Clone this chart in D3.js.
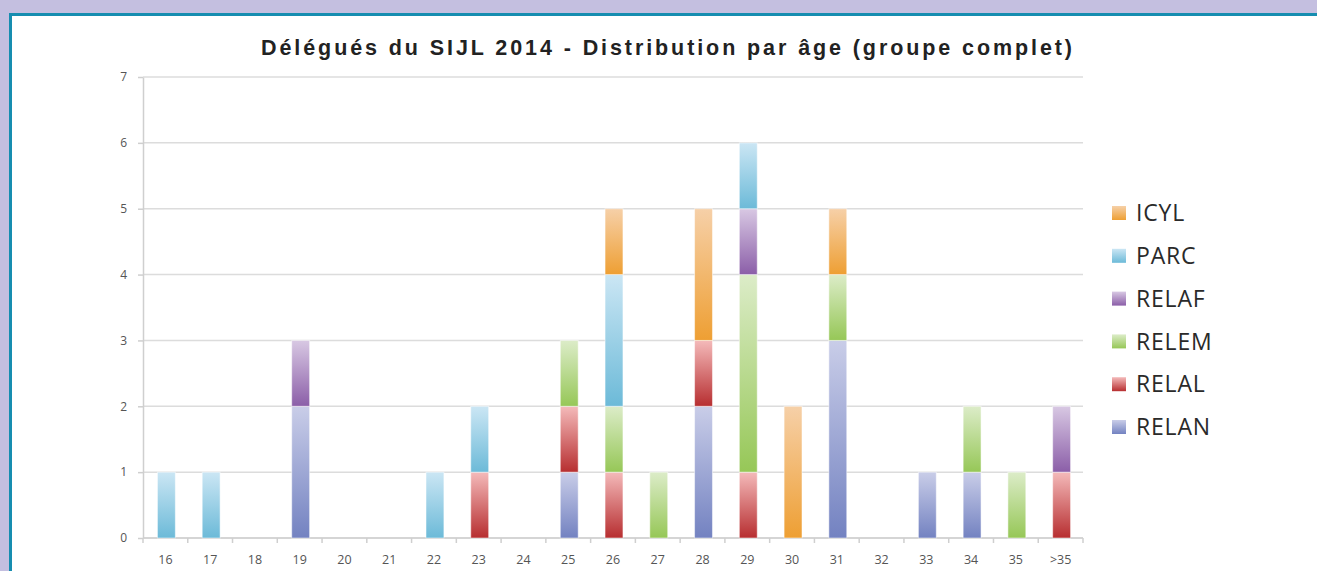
<!DOCTYPE html>
<html>
<head>
<meta charset="utf-8">
<script src="https://cdn.jsdelivr.net/npm/d3@7"></script>
<style>
  body { margin: 0; background: #c4bfe0; overflow: hidden; }
  svg { display: block; }
</style>
</head>
<body>
<svg id="chart"></svg>
<script>
const width = 1317, height = 571;

// Data
const categories = ['16','17','18','19','20','21','22','23','24','25','26','27','28','29','30','31','32','33','34','35','>35'];
const ICYL  = [0,0,0,0,0,0,0,0,0,0,1,0,2,0,2,1,0,0,0,0,0];
const PARC  = [1,1,0,0,0,0,1,1,0,0,2,0,0,1,0,0,0,0,0,0,0];
const RELAF = [0,0,0,1,0,0,0,0,0,0,0,0,0,1,0,0,0,0,0,0,1];
const RELEM = [0,0,0,0,0,0,0,0,0,1,1,1,0,3,0,1,0,0,1,1,0];
const RELAL = [0,0,0,0,0,0,0,1,0,1,1,0,1,1,0,0,0,0,0,0,1];
const RELAN = [0,0,0,2,0,0,0,0,0,1,0,0,2,0,0,3,0,1,1,0,0];
const seriesNames = ['RELAN','RELAL','RELEM','RELAF','PARC','ICYL'];
const legendOrder = ['ICYL','PARC','RELAF','RELEM','RELAL','RELAN'];
const yTicks = [0,1,2,3,4,5,6,7];
const title = 'Délégués du SIJL 2014 - Distribution par âge (groupe complet)';

const seriesValues = { ICYL, PARC, RELAF, RELEM, RELAL, RELAN };

// colours: light top, dark bottom
const colours = {
  ICYL:  ['#f6d0a8', '#ee9f33'],
  PARC:  ['#cbe6f4', '#6cbad8'],
  RELAF: ['#d8c8e3', '#8b5ea8'],
  RELEM: ['#dcecc8', '#96c757'],
  RELAL: ['#f4baba', '#b72e30'],
  RELAN: ['#c9cde8', '#7382c1']
};

const rows = categories.map((c, i) => {
  const r = { cat: c };
  seriesNames.forEach(k => r[k] = seriesValues[k][i]);
  return r;
});

const svg = d3.select('#chart')
  .attr('width', width)
  .attr('height', height);

// gradients
const defs = svg.append('defs');
seriesNames.forEach(k => {
  const g = defs.append('linearGradient')
    .attr('id', `grad-${k}`)
    .attr('x1', 0).attr('y1', 0).attr('x2', 0).attr('y2', 1);
  g.append('stop').attr('offset', '0%').attr('stop-color', colours[k][0]);
  g.append('stop').attr('offset', '100%').attr('stop-color', colours[k][1]);
});

// page background + panel (top and left border only, rest runs off the page)
svg.append('rect')
  .attr('width', width).attr('height', height)
  .attr('fill', '#c4bfe0');
svg.append('rect')
  .attr('x', 9).attr('y', 13)
  .attr('width', width - 9).attr('height', height - 13)
  .attr('fill', '#fff');
svg.append('rect')
  .attr('x', 9).attr('y', 13)
  .attr('width', width - 9).attr('height', 3)
  .attr('fill', '#168db0');
svg.append('rect')
  .attr('x', 9).attr('y', 13)
  .attr('width', 3).attr('height', height - 13)
  .attr('fill', '#168db0');

// scales
const x = d3.scaleBand().domain(categories).range([143, 1083]);
const y = d3.scaleLinear().domain([0, 7]).range([538, 77]);

// gridlines
svg.append('g')
  .selectAll('line')
  .data(yTicks)
  .enter()
  .append('line')
  .attr('x1', 143).attr('x2', 1083)
  .attr('y1', d => y(d)).attr('y2', d => y(d))
  .attr('stroke', '#dcdcdc')
  .attr('stroke-width', 1.5);

// y axis
const yAxis = svg.append('g')
  .attr('transform', 'translate(143,0)')
  .call(d3.axisLeft(y).tickValues(yTicks).tickFormat(d3.format('d'))
    .tickSize(5).tickPadding(11).tickSizeOuter(0));
yAxis.select('.domain').attr('stroke', '#cfcfcf').attr('stroke-width', 1.5);
yAxis.selectAll('.tick line').attr('stroke', '#cfcfcf').attr('stroke-width', 1.5);
yAxis.selectAll('text')
  .attr('fill', '#555')
  .style('font-family', '"Open Sans", sans-serif')
  .style('font-size', '12px');

// x axis
const xAxis = svg.append('g')
  .attr('transform', `translate(0,${y(0)})`)
  .call(d3.axisBottom(x).tickSize(0).tickPadding(17));
xAxis.select('.domain').remove();
xAxis.selectAll('text')
  .attr('fill', '#555')
  .style('font-family', '"Open Sans", sans-serif')
  .style('font-size', '12.5px');

svg.append('line')
  .attr('x1', 143).attr('x2', 1083)
  .attr('y1', y(0)).attr('y2', y(0))
  .attr('stroke', '#cfcfcf')
  .attr('stroke-width', 1.5);

// boundary ticks
svg.append('g')
  .selectAll('line')
  .data(categories.map(c => x(c)).concat([x.range()[1]]))
  .enter()
  .append('line')
  .attr('x1', d => d).attr('x2', d => d)
  .attr('y1', y(0)).attr('y2', y(0) + 5)
  .attr('stroke', '#cfcfcf')
  .attr('stroke-width', 1.5);

// stacked bars
const stacked = d3.stack().keys(seriesNames)(rows);
const barW = x.bandwidth() * 0.4;

svg.append('g')
  .selectAll('g')
  .data(stacked)
  .enter()
  .append('g')
  .attr('fill', d => `url(#grad-${d.key})`)
  .selectAll('rect')
  .data(d => d.filter(s => s[1] > s[0]))
  .enter()
  .append('rect')
  .attr('x', d => x(d.data.cat) + x.bandwidth() / 2 - barW / 2 + 1)
  .attr('y', d => y(d[1]))
  .attr('width', barW)
  .attr('height', d => y(d[0]) - y(d[1]))
  .attr('stroke', 'rgba(255,255,255,0.5)')
  .attr('stroke-width', 1);

// title
const t = svg.append('text')
  .attr('x', 668)
  .attr('y', 55)
  .attr('text-anchor', 'middle')
  .attr('fill', '#222')
  .style('font-family', '"Liberation Sans", Arial, sans-serif')
  .style('font-weight', 'bold')
  .style('font-size', '21.5px')
  .text(title);
const tw = t.node().getComputedTextLength();
t.style('letter-spacing', `${(811 - tw) / (title.length - 1)}px`);

// legend
const legend = svg.append('g')
  .selectAll('g')
  .data(legendOrder)
  .enter()
  .append('g')
  .attr('transform', (d, i) => `translate(1112,${213 + i * 42.8})`);

legend.append('rect')
  .attr('x', 0).attr('y', -7)
  .attr('width', 14).attr('height', 14)
  .attr('fill', d => `url(#grad-${d})`);

legend.append('text')
  .attr('x', 24)
  .attr('y', 0)
  .attr('dy', '0.36em')
  .attr('fill', '#2a2a2a')
  .style('font-family', '"Open Sans", sans-serif')
  .style('font-size', '23px')
  .style('letter-spacing', '0.8px')
  .text(d => d);
</script>
</body>
</html>
